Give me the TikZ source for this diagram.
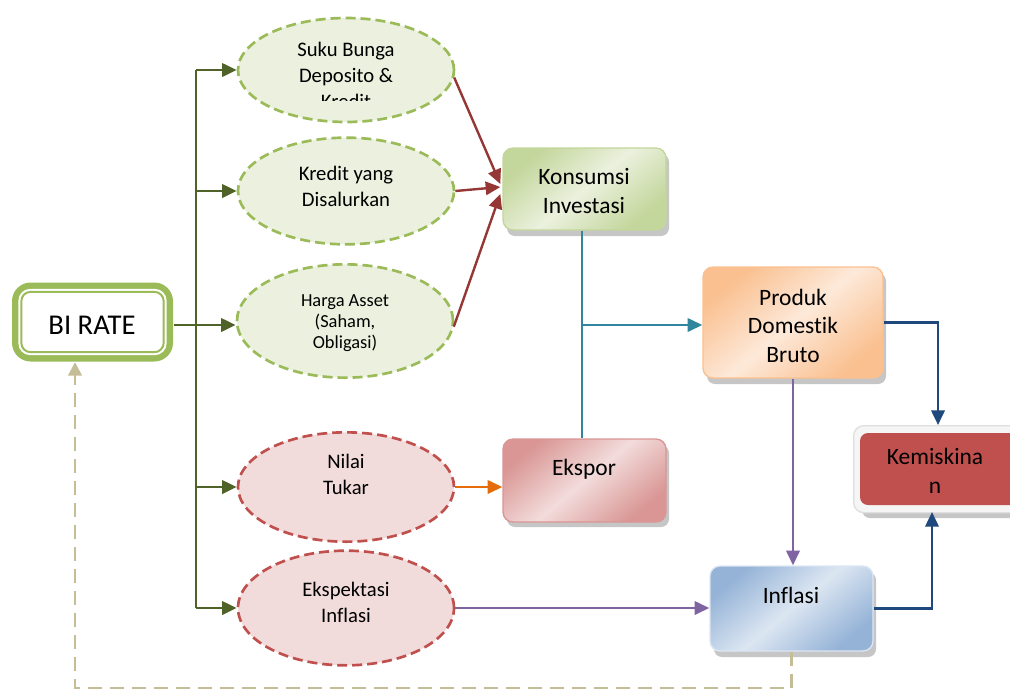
\documentclass[tikz,border=0pt]{standalone}
\usepackage{fontspec}
\setmainfont{Carlito}[Ligatures=NoCommon]
\usetikzlibrary{arrows.meta,shapes.geometric,calc}
\definecolor{olivec}{HTML}{4F6228}
\definecolor{lgreen}{HTML}{9BBB59}
\definecolor{pgreen}{HTML}{EBF1DE}
\definecolor{dredc}{HTML}{953735}
\definecolor{redc}{HTML}{C0504D}
\definecolor{ppink}{HTML}{F2DCDB}
\definecolor{tealc}{HTML}{31859C}
\definecolor{orngc}{HTML}{E46C0A}
\definecolor{purpc}{HTML}{8064A2}
\definecolor{navyc}{HTML}{1F497D}
\definecolor{tanc}{HTML}{C4BD97}
\definecolor{gdark}{HTML}{C3D69B}
\definecolor{odark}{HTML}{FAC090}
\definecolor{olight}{HTML}{FDE9D9}
\definecolor{pdark}{HTML}{D99694}
\definecolor{bdark}{HTML}{95B3D7}
\definecolor{blight}{HTML}{DCE6F2}
\tikzset{
  tip/.style={-{Triangle[length=11pt,width=10pt]}},
  greenell/.style={ellipse, draw=lgreen, fill=pgreen, line width=2pt, dash pattern=on 7.5pt off 3.75pt, inner sep=0pt, minimum width=162pt},
  pinkell/.style={ellipse, draw=redc, fill=ppink, line width=2pt, dash pattern=on 7.5pt off 3.75pt, inner sep=0pt, minimum width=162pt},
  etext/.style={align=center, anchor=base, inner sep=0pt, font=\fontsize{15.5}{19.5}\selectfont},
  btext/.style={align=center, anchor=base, inner sep=0pt, font=\fontsize{17.6}{21.2}\selectfont},
  boxc/.style={rectangle, rounded corners=7.5pt, inner sep=0pt, line width=1pt},
  shadowc/.style={fill=gray!45, rounded corners=6pt},
  olv/.style={draw=olivec, line width=2.2pt},
  dr/.style={draw=dredc, line width=1.8pt},
}
\begin{document}
\begin{tikzpicture}[x=0.75pt,y=-0.75pt]
\useasboundingbox (0,0) rectangle (1010,690);
\clip (0,0) rectangle (1010,690);

% ellipses
\node[greenell, minimum height=78pt] (e1) at (346,70) {};
\node[greenell, minimum height=80pt] (e2) at (346,191) {};
\node[greenell, minimum height=85pt] (e3) at (345,321) {};
\node[pinkell, minimum height=82pt] (e4) at (346,487) {};
\node[pinkell, minimum height=86pt] (e5) at (346,608) {};

\begin{scope}
\clip (230,0) rectangle (460,100.5);
\node[etext] (t1) at (346,108) {Suku Bunga\\Deposito \&\\Kredit};
\end{scope}
\node[etext] (t2) at (346,206) {Kredit yang\\Disalurkan};
\node[etext, font=\fontsize{13.8}{15.75}\selectfont] (t3) at (345,348) {Harga Asset\\(Saham,\\Obligasi)};
\node[etext] (t4) at (346,494) {Nilai\\Tukar};
\node[etext] (t5) at (346,622) {Ekspektasi\\Inflasi};

% BI RATE
\node[boxc, rounded corners=14pt, fill=lgreen, minimum width=120.75pt, minimum height=59.25pt] (bi) at (92.5,322) {};
\fill[white, rounded corners=9pt] ($(bi.north west)+(7,7)$) rectangle ($(bi.south east)+(-7,-7)$);
\draw[lgreen, line width=1.5pt, rounded corners=7pt] ($(bi.north west)+(10,10)$) rectangle ($(bi.south east)+(-10,-10)$);
\node[anchor=base, inner sep=0pt, font=\fontsize{21.5}{25}\selectfont] (bit) at (92,334) {BI RATE};

% shadows
\fill[shadowc] (507,154) rectangle (669,236);
\fill[shadowc] (707,273) rectangle (886,384);
\fill[shadowc] (507,445) rectangle (669,527);
\fill[shadowc] (714,572) rectangle (876,657);
\fill[shadowc] (862,440) rectangle (1030,518);

% boxes
\node[boxc, draw=gdark, top color=gdark, bottom color=gdark, middle color=pgreen, shading angle=40, minimum width=122.25pt, minimum height=61.5pt] (kons) at (584.5,189) {};
\node[btext] (kt) at (584,213) {Konsumsi\\Investasi};

\node[boxc, draw=odark, top color=odark, bottom color=odark, middle color=olight, shading angle=40, minimum width=135pt, minimum height=83.25pt] (pdb) at (793,322.5) {};
\node[btext] (pt) at (793,362) {Produk\\Domestik\\Bruto};

\node[boxc, draw=pdark, top color=pdark, bottom color=pdark, middle color=ppink, shading angle=40, minimum width=122.25pt, minimum height=62.25pt] (eks) at (584.5,480.5) {};
\node[btext] (et) at (584,475) {Ekspor};

\node[boxc, draw=blight, top color=bdark, bottom color=bdark, middle color=blight, shading angle=40, minimum width=122.25pt, minimum height=63.75pt] (infl) at (791.5,608.5) {};
\node[btext] (it) at (791,603) {Inflasi};

% Kemiskinan
\node[boxc, draw=gray!25, fill=gray!8, minimum width=135pt, minimum height=65.25pt, anchor=north west] (kem) at (853,425) {};
\fill[redc, rounded corners=6pt] (860,433) rectangle (1040,505);
\node[btext] (kmt) at (935,493) {Kemiskina\\n};
\coordinate (kemtop) at (938,425);
\coordinate (kembot) at (932,512);

% olive trunk
\coordinate (tr) at (196,0);
\draw[olv] (e1.west -| tr) -- (e5.west -| tr);
\draw[olv, tip] (e1.west -| tr) -- (e1.west);
\draw[olv, tip] (e2.west -| tr) -- (e2.west);
\draw[olv, tip] ($(bi.east)+(0,3)$) -- ($(bi.east -| e3.west)+(0,3)$);
\draw[olv, tip] (e4.west -| tr) -- (e4.west);
\draw[olv, tip] (e5.west -| tr) -- (e5.west);

% dark red arrows
\draw[dr, tip] (e1.-4) -- ($(kons.west)+(-2,-5)$);
\draw[dr, tip] (e2.east) -- ($(kons.west)+(-2,-2)$);
\draw[dr, tip] (e3.-3) -- ($(kons.west)+(-2,5)$);

% teal
\draw[tealc, line width=1.8pt] (kons.south -| 582,0) -- (eks.north -| 582,0);
\draw[tealc, line width=1.8pt, tip] (582,325) -- (pdb.west |- 582,325);

% orange
\draw[orngc, line width=1.8pt, tip] (e4.east) -- (eks.west |- e4.east);

% purple
\draw[purpc, line width=1.8pt, tip] (e5.east) -- (infl.west |- e5.east);
\draw[purpc, line width=1.8pt, tip] (pdb.south) -- (pdb.south |- infl.north);

% navy
\draw[navyc, line width=2pt, tip] (pdb.east) -| (kemtop);
\draw[navyc, line width=2pt, tip] (infl.east) -| (kembot);

% tan dashed feedback
\coordinate (fb) at (75,688);
\draw[tanc, line width=2pt, dash pattern=on 10.5pt off 6pt, -{Triangle[length=10pt,width=10pt]}] (infl.south) |- (fb) -- (fb |- bi.south);
\end{tikzpicture}
\end{document}
